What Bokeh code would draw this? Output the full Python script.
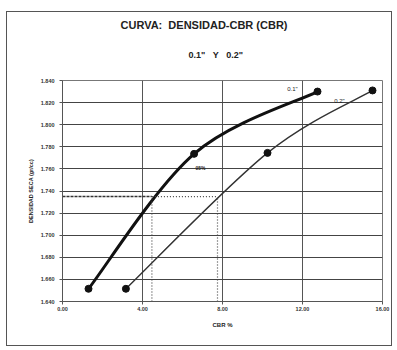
from bokeh.plotting import figure
from bokeh.models import (Range1d, FixedTicker, NumeralTickFormatter, Label,
                          ColumnDataSource, Title)
from bokeh.embed import file_html
from bokeh.resources import INLINE

# ---- data ----
cbr_01 = [1.30, 6.58, 12.75]          # CBR % at 0.1"
dens_01 = [1.6515, 1.7736, 1.8300]
cbr_02 = [3.17, 10.25, 15.50]         # CBR % at 0.2"
dens_02 = [1.6515, 1.7745, 1.8310]
ref_density = [1.735]                 # 95% of max dry density
ref_cbr = [4.47, 7.75]                # CBR at 95% for 0.1" and 0.2"
x_ticks = [0, 4, 8, 12, 16]
y_ticks = [1.640, 1.660, 1.680, 1.700, 1.720, 1.740, 1.760, 1.780, 1.800, 1.820, 1.840]

FONT = "Liberation Sans"
NB = "\u00a0"

p = figure(width=386, height=335, output_backend="svg", toolbar_location=None,
           x_range=Range1d(x_ticks[0], x_ticks[-1]),
           y_range=Range1d(y_ticks[0], y_ticks[-1]),
           min_border_left=55, min_border_right=11,
           min_border_top=68, min_border_bottom=46)
p.margin = (11, 0, 0, 6)
p.styles = {"border": "1px solid #555"}
p.background_fill_color = "white"
p.border_fill_color = "white"
p.outline_line_color = "#777"

# titles (first added sits closest to the frame)
p.add_layout(Title(text=f'0.1"{NB}{NB}{NB}Y{NB}{NB}{NB}0.2"', align="left",
                   offset=126, text_font=FONT, vertical_align="top",
                   text_font_size="9px", text_font_style="bold",
                   text_color="#222", standoff=38), "above")
p.add_layout(Title(text=f"CURVA:{NB}{NB}DENSIDAD-CBR (CBR)", align="left",
                   offset=58, text_font=FONT, text_font_size="11px",
                   vertical_align="bottom",
                   text_font_style="bold", text_color="#222", standoff=0),
             "above")

# axes
p.xaxis.ticker = FixedTicker(ticks=x_ticks)
p.yaxis.ticker = FixedTicker(ticks=y_ticks)
p.xaxis.formatter = NumeralTickFormatter(format="0.00")
p.yaxis.formatter = NumeralTickFormatter(format="0.000")
for ax in (p.xaxis, p.yaxis):
    ax.major_label_text_font = FONT
    ax.major_label_text_font_size = "5.5px"
    ax.major_label_text_font_style = "bold"
    ax.major_label_text_color = "#333"
    ax.axis_label_text_font = FONT
    ax.axis_label_text_font_size = "6px"
    ax.axis_label_text_font_style = "bold"
    ax.axis_label_text_color = "#222"
    ax.minor_tick_line_color = None
    ax.major_tick_in = 0
    ax.major_tick_out = 3
    ax.axis_line_color = "#555"
    ax.major_tick_line_color = "#555"
p.xaxis.major_label_standoff = 2
p.xaxis.axis_label = "CBR %"
p.xaxis.axis_label_standoff = 8
p.yaxis.axis_label = "DENSIDAD SECA (gr/cc)"
p.yaxis.axis_label_text_font_size = "5.5px"
p.yaxis.axis_label_standoff = 4

p.xgrid.grid_line_color = "#555"
p.ygrid.grid_line_color = "#444"
p.xgrid.grid_line_width = 1
p.ygrid.grid_line_width = 1.2

# smooth curves (Catmull-Rom style bezier segments through the points)
def bezier_source(xs, ys):
    n = len(xs)
    d = dict(x0=[], y0=[], x1=[], y1=[], cx0=[], cy0=[], cx1=[], cy1=[])
    for i in range(n - 1):
        xp, yp = (xs[i - 1], ys[i - 1]) if i > 0 else (xs[i], ys[i])
        xn, yn = (xs[i + 2], ys[i + 2]) if i + 2 < n else (xs[i + 1], ys[i + 1])
        d["x0"].append(xs[i]); d["y0"].append(ys[i])
        d["x1"].append(xs[i + 1]); d["y1"].append(ys[i + 1])
        d["cx0"].append(xs[i] + (xs[i + 1] - xp) / 6)
        d["cy0"].append(ys[i] + (ys[i + 1] - yp) / 6)
        d["cx1"].append(xs[i + 1] - (xn - xs[i]) / 6)
        d["cy1"].append(ys[i + 1] - (yn - ys[i]) / 6)
    return ColumnDataSource(d)

p.bezier(x0="x0", y0="y0", x1="x1", y1="y1", cx0="cx0", cy0="cy0",
         cx1="cx1", cy1="cy1", source=bezier_source(cbr_01, dens_01),
         line_color="#111", line_width=3)
p.bezier(x0="x0", y0="y0", x1="x1", y1="y1", cx0="cx0", cy0="cy0",
         cx1="cx1", cy1="cy1", source=bezier_source(cbr_02, dens_02),
         line_color="#333", line_width=1.4)
p.scatter(cbr_01, dens_01, size=7, color="#111")
p.scatter(cbr_02, dens_02, size=7, color="#111")

# 95% reference lines
p.line([x_ticks[0], ref_cbr[0]], [ref_density[0]] * 2, line_color="#333",
       line_width=1.6, line_dash="3 1")
p.line([ref_cbr[0], ref_cbr[1]], [ref_density[0]] * 2, line_color="#444",
       line_width=1.2, line_dash="1 2")
for c in ref_cbr:
    p.line([c, c], [y_ticks[0], ref_density[0]], line_color="#444",
           line_width=1.2, line_dash="1 2")

# annotations
p.add_layout(Label(x=6.9, y=1.761, text="95%", text_font=FONT,
                   text_font_size="5px", text_font_style="bold",
                   text_align="center", text_baseline="middle",
                   text_color="#222"))
p.add_layout(Label(x=11.5, y=1.832, text='0.1"', text_font=FONT,
                   text_font_size="6px", text_align="center",
                   text_baseline="middle", text_color="#222"))
p.add_layout(Label(x=13.85, y=1.821, text='0.2"', text_font=FONT,
                   text_font_size="6px", text_align="center",
                   text_baseline="middle", text_color="#222"))

open("out.html", "w").write(file_html(p, INLINE))
